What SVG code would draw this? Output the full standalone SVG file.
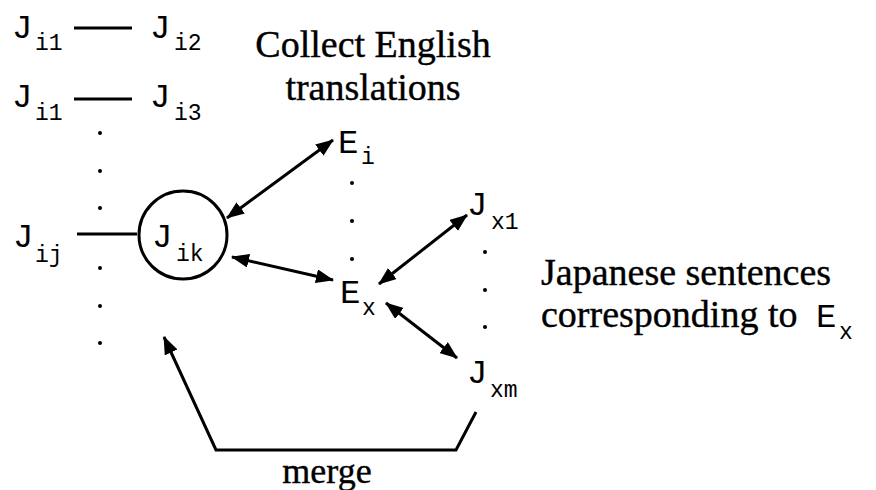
<svg xmlns="http://www.w3.org/2000/svg" width="876" height="490" viewBox="0 0 876 490">
<style>
.m{font-family:"Liberation Mono","Courier New",monospace;font-size:34px;fill:#000}
.s{font-family:"Liberation Mono","Courier New",monospace;font-size:23px;fill:#000}
.t{font-family:"Liberation Serif","Times New Roman",serif;font-size:38px;fill:#000;stroke:#000;stroke-width:0.4}
.ln{stroke:#000;stroke-width:3;fill:none}
.ar{stroke:#000;stroke-width:3;fill:none;marker-start:url(#ah);marker-end:url(#ah)}
.dot{fill:#000}
</style>
<defs>
<marker id="ah" viewBox="0 0 18 14" refX="17" refY="7" markerWidth="18" markerHeight="14" markerUnits="userSpaceOnUse" orient="auto-start-reverse">
<path d="M0,0 L18,7 L0,14 Z" fill="#000"/>
</marker>
</defs>
<rect width="876" height="490" fill="#fff"/>

<g id="n-ji1-a"><text class="m" x="12" y="38">J</text><text class="s" x="35" y="50">i1</text></g>
<g id="n-ji2"><text class="m" x="150" y="38">J</text><text class="s" x="174" y="50">i2</text></g>
<g id="n-ji1-b"><text class="m" x="12" y="107">J</text><text class="s" x="35" y="120">i1</text></g>
<g id="n-ji3"><text class="m" x="150" y="107">J</text><text class="s" x="174" y="120">i3</text></g>
<g id="n-jij"><text class="m" x="13" y="247">J</text><text class="s" x="35" y="262">ij</text></g>
<g id="n-jik"><circle class="ln" cx="183" cy="235" r="44"/><text class="m" x="152" y="247">J</text><text class="s" x="176" y="261">ik</text></g>
<g id="n-ei"><text class="m" x="338" y="153">E</text><text class="s" x="361" y="164">i</text></g>
<g id="n-ex"><text class="m" x="340" y="303">E</text><text class="s" x="362" y="315">x</text></g>
<g id="n-jx1"><text class="m" x="467" y="215">J</text><text class="s" x="491" y="229">x1</text></g>
<g id="n-jxm"><text class="m" x="467" y="383">J</text><text class="s" x="490" y="397">xm</text></g>

<g id="dots">
<circle class="dot" cx="100" cy="133" r="2"/><circle class="dot" cx="100" cy="171" r="2"/><circle class="dot" cx="100" cy="208" r="2"/>
<circle class="dot" cx="100" cy="268" r="2"/><circle class="dot" cx="100" cy="306" r="2"/><circle class="dot" cx="100" cy="343" r="2"/>
<circle class="dot" cx="352" cy="183" r="2"/><circle class="dot" cx="352" cy="221" r="2"/><circle class="dot" cx="352" cy="259" r="2"/>
<circle class="dot" cx="485" cy="252" r="2"/><circle class="dot" cx="485" cy="290" r="2"/><circle class="dot" cx="485" cy="327" r="2"/>
</g>

<g id="connectors">
<line class="ln" x1="74" y1="28" x2="132" y2="28"/>
<line class="ln" x1="74" y1="99" x2="132" y2="99"/>
<line class="ln" x1="77" y1="234" x2="137" y2="234"/>
<line class="ar" x1="227" y1="218" x2="333" y2="140"/>
<line class="ar" x1="232" y1="257" x2="333" y2="280"/>
<line class="ar" x1="379" y1="284" x2="467" y2="215"/>
<line class="ar" x1="386" y1="303" x2="457" y2="358"/>
<path class="ln" d="M476,412 L456,450 L216,450 L164,337" marker-end="url(#ah)"/>
</g>

<g id="labels">
<text class="t" x="373" y="57" text-anchor="middle">Collect English</text>
<text class="t" x="373" y="100" text-anchor="middle">translations</text>
<text class="t" x="541" y="285">Japanese sentences</text>
<text class="t" x="541" y="327">corresponding to</text>
<text class="m" x="816" y="327">E</text><text class="s" x="839" y="339">x</text>
<text class="t" x="327" y="483" text-anchor="middle" style="font-size:36px">merge</text>
</g>
</svg>
